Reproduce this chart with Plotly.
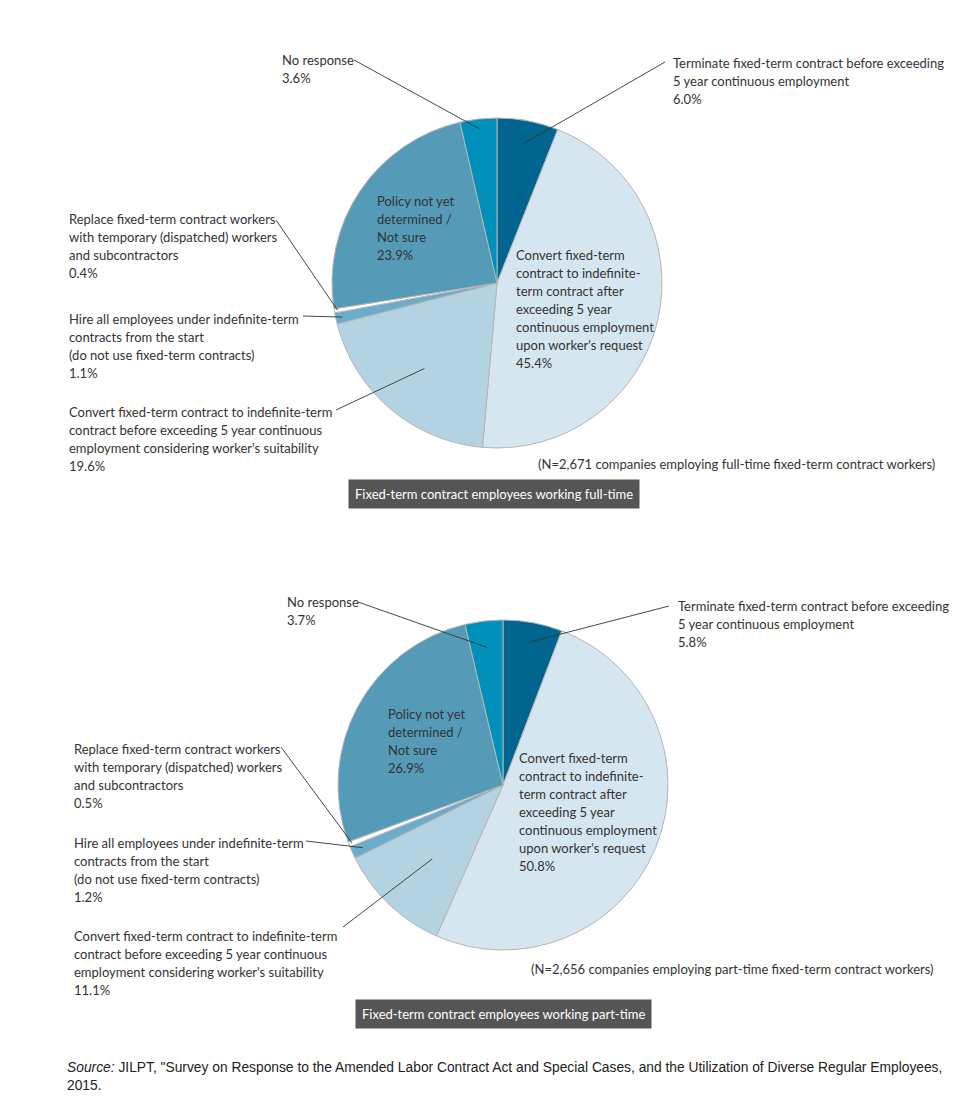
import math
import plotly.graph_objects as go

# page body has an 8px margin; figure is sized to fit inside the window
OFF = 8
W, H = 952, 1096

categories = [
    "Terminate fixed-term contract before exceeding 5 year continuous employment",
    "Convert fixed-term contract to indefinite-term contract after exceeding 5 year continuous employment upon worker's request",
    "Convert fixed-term contract to indefinite-term contract before exceeding 5 year continuous employment considering worker's suitability",
    "Hire all employees under indefinite-term contracts from the start (do not use fixed-term contracts)",
    "Replace fixed-term contract workers with temporary (dispatched) workers and subcontractors",
    "Policy not yet determined / Not sure",
    "No response",
]
full_time = [6.0, 45.4, 19.6, 1.1, 0.4, 23.9, 3.6]
part_time = [5.8, 50.8, 11.1, 1.2, 0.5, 26.9, 3.7]
colors = ["#00668f", "#d6e6f0", "#b4d3e2", "#6aaccc", "#ffffff", "#559bb8", "#0090ba"]

titles = ["Fixed-term contract employees working full-time",
          "Fixed-term contract employees working part-time"]
notes = ["(N=2,671 companies employing full-time fixed-term contract workers)",
         "(N=2,656 companies employing part-time fixed-term contract workers)"]

FONT = "Lato"
TXT = "#333333"
LINE_H = 18


def px(x):
    return (x - OFF) / W


def py(y):
    return 1 - (y - OFF) / H


# pie geometry (window-pixel centres and radius)
pies = [
    dict(vals=full_time, cx=497, cy=283, r=165),
    dict(vals=part_time, cx=503, cy=785, r=165),
]

fig = go.Figure()
for p in pies:
    cx, cy, r = p["cx"], p["cy"], p["r"]
    fig.add_trace(go.Pie(
        labels=categories, values=p["vals"], sort=False, direction="clockwise",
        rotation=0, textinfo="none", hoverinfo="label+percent",
        marker=dict(colors=colors, line=dict(color="#b5b5b5", width=1)),
        domain=dict(x=[px(cx - r), px(cx + r)], y=[py(cy + r), py(cy - r)]),
        showlegend=False,
    ))


def slice_point(vals, idx, frac, cx, cy, r):
    tot = sum(vals)
    start = sum(vals[:idx])
    mid = (start + vals[idx] / 2) / tot * 2 * math.pi
    return cx + frac * r * math.sin(mid), cy - frac * r * math.cos(mid)


annotations = []
shapes = []


def label(x, y, lines, size=13, color=TXT):
    for i, line in enumerate(lines):
        annotations.append(dict(
            x=px(x), y=py(y + i * LINE_H), xref="paper", yref="paper", text=line,
            showarrow=False, xanchor="left", yanchor="top", align="left",
            font=dict(family=FONT, size=size, color=color),
        ))


def leader(x0, y0, pt):
    shapes.append(dict(type="line", xref="paper", yref="paper",
                       x0=px(x0), y0=py(y0), x1=px(pt[0]), y1=py(pt[1]),
                       line=dict(color="#333333", width=0.9)))


def pct(v):
    return f"{v:.1f}%"


layouts = [
    dict(
        term=(671, 53), term_line=(665, 62, 0.86),
        nore=(280, 50), nore_line=(354, 60, 0.94),
        repl=(67, 209), repl_line=(276, 220, 0.98),
        hire=(67, 309), hire_line=(303, 316, 0.96),
        conv=(67, 402), conv_line=(336, 410, 0.68),
        pol=(375, 191), aft=(514, 245),
        note=(536, 454), title_c=(494.5, 494),
    ),
    dict(
        term=(676, 596), term_line=(669, 606, 0.88),
        nore=(285, 592), nore_line=(358, 602, 0.84),
        repl=(72, 739), repl_line=(281, 747, 0.98),
        hire=(72, 833), hire_line=(306, 841, 0.93),
        conv=(72, 926), conv_line=(343, 927, 0.62),
        pol=(386, 704), aft=(517, 748),
        note=(529, 959), title_c=(503, 1014),
    ),
]

for p, L, title, note in zip(pies, layouts, titles, notes):
    v = p["vals"]
    g = (p["cx"], p["cy"], p["r"])
    label(*L["term"], ["Terminate fixed-term contract before exceeding",
                       "5 year continuous employment", pct(v[0])])
    leader(L["term_line"][0], L["term_line"][1], slice_point(v, 0, L["term_line"][2], *g))
    label(*L["nore"], ["No response", pct(v[6])])
    leader(L["nore_line"][0], L["nore_line"][1], slice_point(v, 6, L["nore_line"][2], *g))
    label(*L["repl"], ["Replace fixed-term contract workers",
                       "with temporary (dispatched) workers",
                       "and subcontractors", pct(v[4])])
    leader(L["repl_line"][0], L["repl_line"][1], slice_point(v, 4, L["repl_line"][2], *g))
    label(*L["hire"], ["Hire all employees under indefinite-term",
                       "contracts from the start",
                       "(do not use fixed-term contracts)", pct(v[3])])
    leader(L["hire_line"][0], L["hire_line"][1], slice_point(v, 3, L["hire_line"][2], *g))
    label(*L["conv"], ["Convert fixed-term contract to indefinite-term",
                       "contract before exceeding 5 year continuous",
                       "employment considering worker's suitability", pct(v[2])])
    leader(L["conv_line"][0], L["conv_line"][1], slice_point(v, 2, L["conv_line"][2], *g))
    label(*L["pol"], ["Policy not yet", "determined /", "Not sure", pct(v[5])])
    label(*L["aft"], ["Convert fixed-term", "contract to indefinite-",
                      "term contract after", "exceeding 5 year",
                      "continuous employment", "upon worker's request", pct(v[1])])
    label(*L["note"], [note])
    annotations.append(dict(
        x=px(L["title_c"][0]), y=py(L["title_c"][1]), xref="paper", yref="paper",
        text=title, showarrow=False, xanchor="center", yanchor="middle",
        bgcolor="#555555", borderpad=6,
        font=dict(family=FONT, size=13, color="#ffffff"),
    ))

annotations.append(dict(
    x=px(65), y=py(1058), xref="paper", yref="paper", showarrow=False,
    xanchor="left", yanchor="top", align="left",
    text="<i>Source:</i> JILPT, \"Survey on Response to the Amended Labor Contract Act and Special Cases, and the Utilization of Diverse Regular Employees,<br>2015.",
    font=dict(family="Liberation Sans Narrow, Arial Narrow, sans-serif", size=13.8, color="#222222"),
))

fig.update_layout(
    width=W, height=H, margin=dict(l=0, r=0, t=0, b=0),
    paper_bgcolor="white", plot_bgcolor="white",
    annotations=annotations, shapes=shapes,
)

fig.write_html("out.html")
